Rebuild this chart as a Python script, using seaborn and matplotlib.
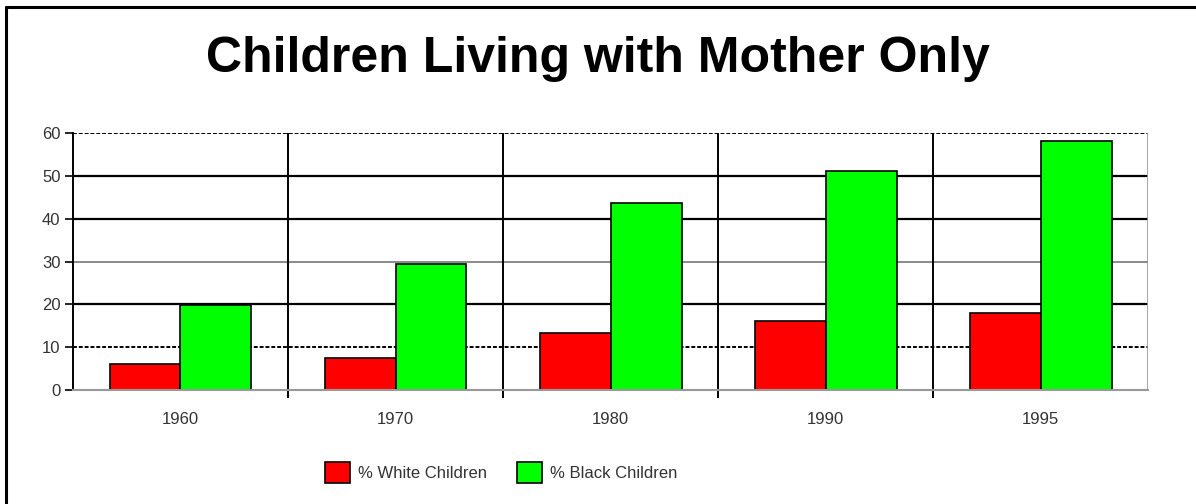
import matplotlib
matplotlib.use("Agg")
import matplotlib.pyplot as plt
from matplotlib.lines import Line2D
import pandas as pd
import seaborn as sns

years = ["1960", "1970", "1980", "1990", "1995"]
white_pct = [6.1, 7.6, 13.3, 16.2, 18.0]
black_pct = [19.8, 29.4, 43.7, 51.2, 58.1]
series_names = ["% White Children", "% Black Children"]
y_ticks = [0, 10, 20, 30, 40, 50, 60]

df = pd.DataFrame({
    "year": years * 2,
    "pct": white_pct + black_pct,
    "series": [series_names[0]] * len(years) + [series_names[1]] * len(years),
})

sns.set_style("white")
plt.rcParams["font.family"] = ["Liberation Sans", "DejaVu Sans"]

fig = plt.figure(figsize=(11.96, 5.04), dpi=100)
ax = fig.add_axes([0.061, 0.226, 0.899, 0.51])

sns.barplot(data=df, x="year", y="pct", hue="series", order=years,
            palette=["#ff0000", "#00ff00"], saturation=1, width=0.66, gap=0,
            edgecolor="black", linewidth=1.2, ax=ax, legend=False)

ax.set_xlim(-0.5, len(years) - 0.5)
ax.set_ylim(0, 60)
ax.set_yticks(y_ticks)
ax.set_yticklabels([str(v) for v in y_ticks])
ax.set_xlabel("")
ax.set_ylabel("")

# horizontal grid lines
for v in y_ticks[1:]:
    if v == 30:
        ax.axhline(v, color="#777777", lw=1.2, zorder=0)
    elif v in (10, 60):
        ax.axhline(v, color="black", lw=1.4, ls=(0, (2, 1)), zorder=0)
    else:
        ax.axhline(v, color="black", lw=1.6, zorder=0)

# category separators, with small ticks below the axis
for i in range(1, len(years)):
    ax.axvline(i - 0.5, color="black", lw=1.4, zorder=0)
ax.set_xticks([i - 0.5 for i in range(1, len(years))], minor=True)
ax.tick_params(axis="x", which="minor", bottom=True, length=6, width=1.4, color="black")

for side in ["top", "right"]:
    ax.spines[side].set_visible(False)
ax.spines["left"].set_color("black")
ax.spines["left"].set_linestyle((0, (2, 1)))
ax.spines["left"].set_linewidth(1.4)
ax.spines["bottom"].set_color("#999999")
ax.spines["bottom"].set_linewidth(1.5)
ax.axvline(len(years) - 0.5, color="#999999", lw=1.2, zorder=0)

ax.tick_params(axis="y", left=True, length=6, width=1.2, color="black",
               labelsize=12, labelcolor="#333333", pad=3)
ax.tick_params(axis="x", which="major", bottom=False, labelsize=12,
               labelcolor="#333333", pad=12)

fig.text(0.5, 0.883, "Children Living with Mother Only", ha="center", va="center",
         fontsize=36, fontweight="bold", color="black")

handles = [plt.Rectangle((0, 0), 1, 1, facecolor=c, edgecolor="black", lw=1.2)
           for c in ["#ff0000", "#00ff00"]]
fig.legend(handles, series_names, loc="center", bbox_to_anchor=(0.419, 0.063),
           ncol=2, frameon=False, fontsize=12, handlelength=1.5, handleheight=1.6,
           columnspacing=1.8, handletextpad=0.5, labelcolor="#333333")

# outer frame (left and top edges)
fig.add_artist(Line2D([6 / 1196, 6 / 1196], [0, 1 - 7 / 504], color="black", lw=2.2,
                      transform=fig.transFigure))
fig.add_artist(Line2D([6 / 1196, 1], [1 - 7 / 504, 1 - 7 / 504], color="black", lw=2.2,
                      transform=fig.transFigure))

fig.savefig("out.png", dpi=100)
